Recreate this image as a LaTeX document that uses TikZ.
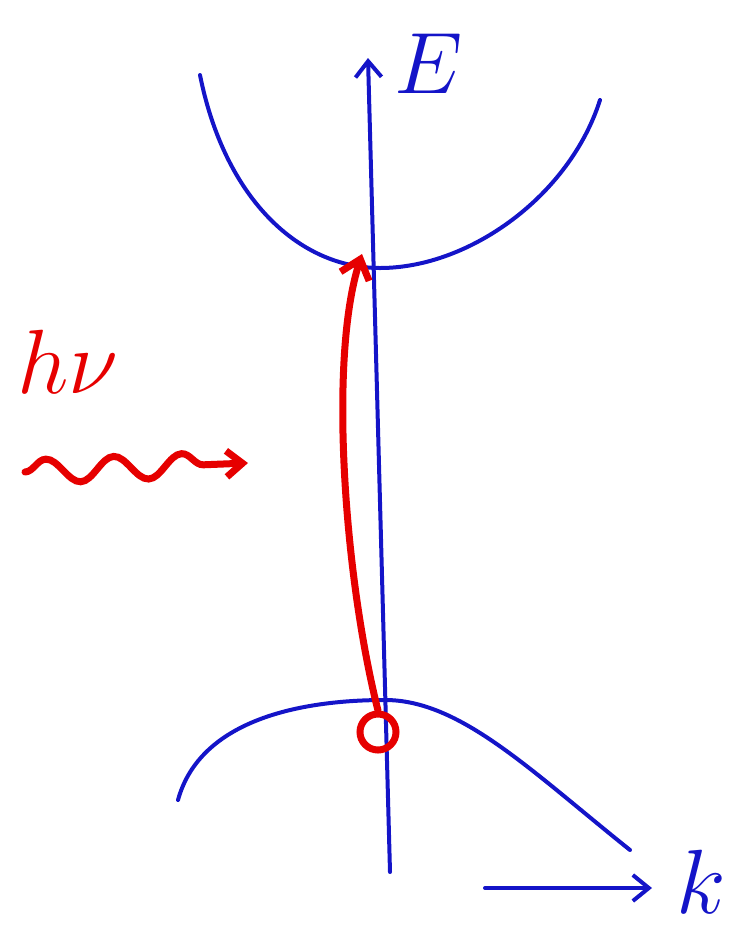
\documentclass[tikz,border=0pt]{standalone}
\usepackage{tikz}
\usetikzlibrary{arrows.meta, positioning, decorations.pathmorphing}
\definecolor{bandBlue}{HTML}{1414C8}
\definecolor{photonRed}{HTML}{E60000}

\begin{document}
\begin{tikzpicture}[
  x=0.5pt, y=-0.5pt,
  band/.style={draw=bandBlue, line width=2pt, line cap=round},
  axis/.style={band, -{Straight Barb[length=8pt, width=13pt, line width=2pt]}},
  trans/.style={draw=photonRed, line width=3.5pt, line cap=round,
                -{Straight Barb[length=9pt, width=15pt, line width=3.5pt]}},
  lbl/.style={inner sep=0pt, font=\fontsize{20}{20}\selectfont},
]
\useasboundingbox (0,0) rectangle (753,933);

% axes E and k
\coordinate (Eorig) at (390,872);
\coordinate (Etip) at (368,58);
\draw[axis] (Eorig) -- (Etip);
\node[lbl, text=bandBlue, anchor=west, scale=2.1] (Elbl) at (394,64) {$E$};

\coordinate (k0) at (485,888);
\coordinate (k1) at (652,888);
\draw[axis] (k0) -- (k1);
\node[lbl, text=bandBlue, right=12pt of k1, yshift=3pt, scale=2.2] (klbl) {$k$};

% conduction and valence band
\draw[band] (200,75) .. controls (225,200) and (300,268) .. (380,268)
            .. controls (470,268) and (570,195) .. (600,100);
\draw[band] (178,800) .. controls (200,720) and (300,700) .. (385,700)
            .. controls (460,700) and (530,770) .. (630,850);

% hole and transition
\node[circle, draw=photonRed, line width=3.5pt, minimum size=18pt, inner sep=0pt] (hole) at (378,732) {};
\coordinate (cbmin) at (362,254);
\draw[trans] (hole.north) .. controls (345,580) and (328,360) .. (cbmin);

% photon
\node[lbl, text=photonRed, scale=2.2] (hnu) at (68,362) {$h\nu$};
\coordinate (w0) at (25,472);
\coordinate (w1) at (248,463);
\draw[photonRed, line width=3.5pt, line cap=round, decorate,
      decoration={snake, amplitude=6pt, segment length=34pt, post length=18pt},
      -{Straight Barb[length=8pt, width=13pt, line width=3.5pt]}] (w0) -- (w1);
\end{tikzpicture}
\end{document}
